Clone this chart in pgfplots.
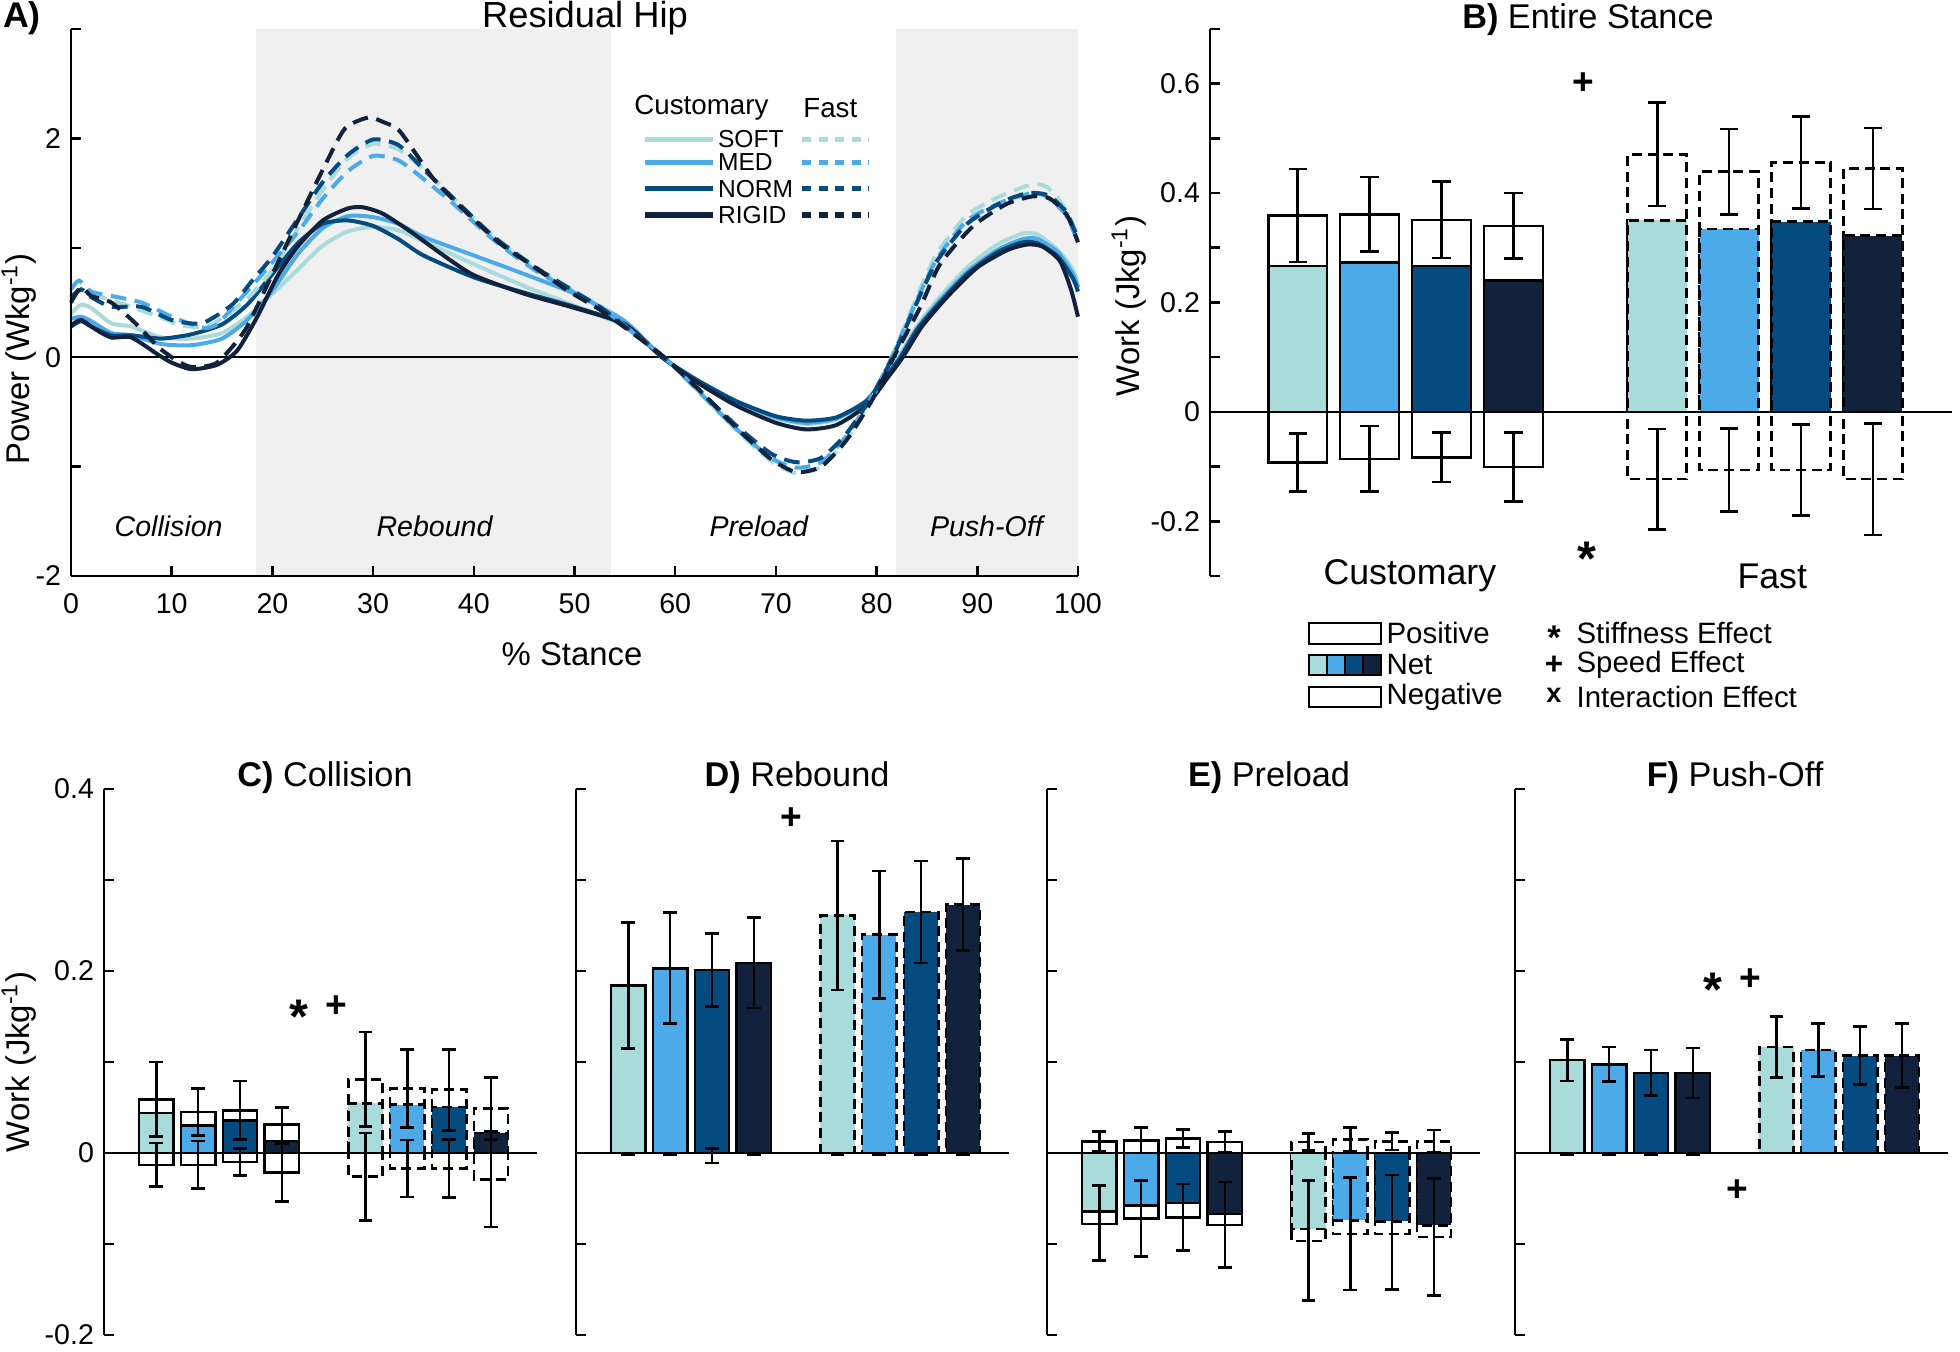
\documentclass[border=0pt]{standalone}
\usepackage{pgfplots}
\pgfplotsset{compat=1.18}
\usepackage{fontspec}
\setmainfont{Liberation Sans}
\definecolor{csoft}{RGB}{169,219,219}
\definecolor{cmed}{RGB}{77,170,233}
\definecolor{cnorm}{RGB}{5,75,127}
\definecolor{crigid}{RGB}{18,33,60}
\definecolor{cgray}{RGB}{240,240,240}
\newcommand{\fs}[1]{\fontsize{#1}{#1}\selectfont}
\tikzset{
  lgs/.style={line width=1.8pt},
  lgd/.style={line width=1.8pt, dash pattern=on 3.2pt off 2.6pt},
}
\pgfplotsset{
  base/.style={scale only axis, clip=false, axis on top,
    axis line style={line width=0.9pt, black},
    every tick/.style={line width=0.9pt, black},
    tick align=inside, major tick length=3.5pt, minor tick length=3.5pt,
    /pgf/number format/assume math mode=true,
    ticklabel style={font=\fs{10}}},
  bot/.style={base, anchor=south west, width=151.55pt, height=191.1pt,
    xmin=-0.25, xmax=10.1, ymin=-0.2, ymax=0.4,
    axis x line=none, axis y line*=left, xtick=\empty,
    ytick={-0.2,0,0.2,0.4}, minor ytick={-0.1,0.1,0.3}},
  bx/.style={ybar, bar width=0.82, bar shift=0, draw=black, line width=0.9pt},
  fst/.style={dash pattern=on 3.5pt off 2pt},
  eb/.style={draw=none, mark=none, forget plot,
    /pgfplots/error bars/y dir=both, /pgfplots/error bars/y explicit,
    /pgfplots/error bars/error mark=-,
    /pgfplots/error bars/error bar style={draw=black, line width=0.9pt, solid},
    /pgfplots/error bars/error mark options={rotate=90, draw=black, line width=0.9pt, solid, mark size=#1}},
  eb/.default=2.4pt,
  cl/.style={line width=1.4pt, smooth, tension=0.4},
  dl/.style={line width=1.4pt, smooth, tension=0.4, dash pattern=on 5.5pt off 3pt},
}
\begin{document}
\begin{tikzpicture}
\useasboundingbox (0,0) rectangle (686pt,473.2pt);

% ---------------- Panel A ----------------
\begin{axis}[base, at={(24.85pt,271.6pt)}, anchor=south west, width=352.45pt, height=191.45pt,
  xmin=0, xmax=100, ymin=-2, ymax=3, axis x line*=bottom, axis y line*=left,
  xtick={0,10,...,100}, ytick={-2,0,2}, minor ytick={-1,1,3},
  xticklabel style={yshift=-2.5pt}]
\fill[cgray] (axis cs:18.4,-2) rectangle (axis cs:53.6,3);
\fill[cgray] (axis cs:81.9,-2) rectangle (axis cs:100,3);
\addplot[black, line width=0.9pt] coordinates {(0,0) (100,0)};
% Customary (solid)
\addplot[cl, csoft] coordinates {(0,0.40)(1,0.48)(2,0.45)(4,0.31)(6,0.28)(9,0.18)(12,0.17)(15,0.22)(17.5,0.37)(20,0.58)(22.5,0.80)(25,1.02)(27.5,1.15)(30,1.19)(32.5,1.16)(35,1.06)(40,0.85)(45,0.65)(50,0.47)(55,0.28)(58.7,0)(62,-0.22)(66,-0.42)(70,-0.56)(73,-0.61)(76,-0.57)(79,-0.39)(81,-0.16)(82.2,0)(84,0.28)(86,0.52)(89,0.82)(92,1.03)(94.5,1.13)(96,1.12)(98,0.98)(99.5,0.80)(100,0.65)};
\addplot[cl, cmed] coordinates {(0,0.35)(1,0.37)(2,0.33)(4,0.22)(6,0.20)(9,0.12)(12,0.11)(15,0.17)(17.5,0.34)(20,0.61)(22.5,0.94)(25,1.18)(27.5,1.29)(30,1.28)(32.5,1.22)(35,1.10)(40,0.93)(45,0.76)(50,0.58)(55,0.33)(58.7,0)(62,-0.20)(66,-0.40)(70,-0.55)(73,-0.60)(76,-0.56)(79,-0.40)(81,-0.17)(82.3,0)(84,0.26)(86,0.49)(89,0.78)(92,0.98)(94.5,1.08)(96,1.08)(98,0.96)(99.5,0.76)(100,0.64)};
\addplot[cl, cnorm] coordinates {(0,0.28)(1,0.33)(2,0.28)(4,0.20)(6,0.20)(9,0.17)(12,0.21)(15,0.30)(17.5,0.48)(20,0.76)(22.5,1.04)(25,1.22)(27.5,1.25)(30,1.20)(32.5,1.08)(35,0.93)(40,0.73)(45,0.59)(50,0.46)(55,0.30)(58.7,0)(62,-0.20)(66,-0.40)(70,-0.54)(73,-0.58)(76,-0.55)(79,-0.40)(81,-0.17)(82.4,0)(84,0.25)(86,0.47)(89,0.76)(92,0.96)(94.5,1.05)(96,1.04)(98,0.92)(99.5,0.72)(100,0.60)};
\addplot[cl, crigid] coordinates {(0,0.29)(1,0.34)(2.5,0.25)(4,0.18)(6,0.18)(8.7,0.02)(10,-0.05)(12,-0.11)(14.5,-0.07)(16.5,0.06)(18.5,0.37)(20.5,0.74)(22.5,1.01)(25,1.25)(27.5,1.36)(29,1.37)(31,1.31)(34,1.13)(37,0.93)(40,0.75)(45,0.58)(50,0.45)(55,0.30)(58.7,0)(62,-0.22)(66,-0.44)(70,-0.60)(73,-0.66)(76,-0.62)(79,-0.44)(81,-0.20)(82.6,0)(84.5,0.28)(87,0.55)(90,0.82)(93,0.98)(95,1.03)(96.5,1.01)(98.2,0.88)(99.3,0.62)(100,0.37)};
% Fast (dashed)
\addplot[dl, csoft] coordinates {(0,0.55)(1,0.62)(2,0.58)(4,0.52)(6,0.46)(9,0.36)(11,0.29)(13.5,0.28)(16,0.42)(18,0.58)(20,0.80)(22.5,1.17)(25,1.53)(27.5,1.82)(30,1.95)(32.5,1.90)(35,1.72)(38,1.45)(42,1.10)(46,0.82)(50,0.60)(53,0.44)(56,0.21)(58.9,0)(62.5,-0.33)(66,-0.66)(69.5,-0.95)(72,-1.06)(74.5,-1.00)(77,-0.75)(79.5,-0.38)(81.5,0)(84,0.55)(86,0.95)(89,1.30)(92.5,1.48)(95.5,1.58)(97,1.55)(98.8,1.35)(100,1.10)};
\addplot[dl, cmed] coordinates {(0,0.62)(0.8,0.70)(2,0.60)(4,0.56)(7,0.50)(10,0.37)(13,0.27)(14.5,0.30)(16.5,0.50)(19,0.76)(22.5,1.14)(25,1.45)(27.5,1.70)(30,1.84)(32.5,1.80)(35,1.63)(38,1.40)(42,1.07)(46,0.80)(50,0.59)(53,0.43)(56,0.21)(58.9,0)(62.5,-0.33)(66,-0.65)(69.5,-0.92)(72,-1.01)(74.5,-0.96)(77,-0.72)(79.5,-0.36)(81.5,0)(84,0.52)(86,0.90)(89,1.25)(92.5,1.42)(95.5,1.50)(97,1.46)(98.8,1.30)(100,1.05)};
\addplot[dl, cnorm] coordinates {(0,0.55)(1,0.62)(2,0.55)(4,0.46)(7,0.46)(10,0.34)(13,0.31)(16,0.48)(18,0.70)(20,0.92)(22.5,1.26)(25,1.60)(27.5,1.85)(30,1.99)(32.5,1.94)(35,1.72)(38,1.45)(42,1.10)(46,0.83)(50,0.60)(53,0.43)(56,0.21)(58.9,0)(62.5,-0.31)(66,-0.62)(69.5,-0.88)(72,-0.96)(74.5,-0.92)(77,-0.70)(79.5,-0.36)(81.6,0)(84,0.50)(86,0.88)(89,1.22)(92.5,1.42)(95,1.50)(97,1.48)(98.8,1.33)(100,1.08)};
\addplot[dl, crigid] coordinates {(0,0.50)(1,0.64)(2,0.56)(4,0.50)(6.4,0.31)(8.7,0.09)(10.5,-0.03)(12,-0.09)(14.5,-0.05)(17.3,0.25)(19.9,0.74)(22.6,1.26)(25.2,1.75)(27.2,2.09)(29.5,2.19)(31,2.15)(32.7,2.06)(36,1.63)(39.3,1.32)(42.6,1.04)(45.9,0.83)(49.3,0.61)(52.6,0.43)(55.9,0.21)(58.9,0)(62.5,-0.31)(66,-0.64)(69.5,-0.93)(72,-1.05)(74.5,-1.00)(77,-0.76)(79.5,-0.40)(81.7,0)(84.3,0.45)(86.3,0.85)(89.6,1.20)(92.9,1.40)(95.5,1.47)(97.2,1.45)(98.9,1.30)(100,1.05)};
% legend
\node[font=\fs{9.7}] at (axis cs:62.6,2.28) {Customary};
\node[font=\fs{9.7}] at (axis cs:75.4,2.28) {Fast};
\draw[lgs, csoft] (axis cs:57,1.99) -- (axis cs:63.8,1.99);
\draw[lgd, csoft] (axis cs:72.6,1.99) -- (axis cs:79.2,1.99);
\node[anchor=west, font=\fs{8.6}, inner sep=0pt] at (axis cs:64.2,1.99) {SOFT};
\draw[lgs, cmed] (axis cs:57,1.78) -- (axis cs:63.8,1.78);
\draw[lgd, cmed] (axis cs:72.6,1.78) -- (axis cs:79.2,1.78);
\node[anchor=west, font=\fs{8.6}, inner sep=0pt] at (axis cs:64.2,1.78) {MED};
\draw[lgs, cnorm] (axis cs:57,1.54) -- (axis cs:63.8,1.54);
\draw[lgd, cnorm] (axis cs:72.6,1.54) -- (axis cs:79.2,1.54);
\node[anchor=west, font=\fs{8.6}, inner sep=0pt] at (axis cs:64.2,1.54) {NORM};
\draw[lgs, crigid] (axis cs:57,1.30) -- (axis cs:63.8,1.30);
\draw[lgd, crigid] (axis cs:72.6,1.30) -- (axis cs:79.2,1.30);
\node[anchor=west, font=\fs{8.6}, inner sep=0pt] at (axis cs:64.2,1.30) {RIGID};
% phases
\node[font=\fs{10}\itshape] at (axis cs:9.7,-1.55) {Collision};
\node[font=\fs{10}\itshape] at (axis cs:36.1,-1.55) {Rebound};
\node[font=\fs{10}\itshape] at (axis cs:68.3,-1.55) {Preload};
\node[font=\fs{10}\itshape] at (axis cs:90.9,-1.55) {Push-Off};
\end{axis}

% ---------------- Panel B ----------------
\begin{axis}[base, at={(423.5pt,271.6pt)}, anchor=south west, width=259.7pt, height=191.45pt,
  xmin=-0.22, xmax=10.1, ymin=-0.3, ymax=0.7, axis x line=none, axis y line*=left, xtick=\empty,
  ytick={-0.2,0,0.2,0.4,0.6}, minor ytick={-0.3,-0.1,0.1,0.3,0.5,0.7}]
\addplot[bx, fill=white] coordinates {(1,0.359)(2,0.361)(3,0.351)(4,0.340)};
\addplot[bx, fill=white] coordinates {(1,-0.093)(2,-0.086)(3,-0.083)(4,-0.101)};
\addplot[bx, fst, fill=white] coordinates {(6,0.471)(7,0.439)(8,0.456)(9,0.445)};
\addplot[bx, fst, fill=white] coordinates {(6,-0.123)(7,-0.106)(8,-0.106)(9,-0.123)};
\addplot[bx, fill=csoft] coordinates {(1,0.267)};
\addplot[bx, fill=cmed] coordinates {(2,0.273)};
\addplot[bx, fill=cnorm] coordinates {(3,0.267)};
\addplot[bx, fill=crigid] coordinates {(4,0.240)};
\addplot[bx, fst, fill=csoft] coordinates {(6,0.350)};
\addplot[bx, fst, fill=cmed] coordinates {(7,0.334)};
\addplot[bx, fst, fill=cnorm] coordinates {(8,0.348)};
\addplot[bx, fst, fill=crigid] coordinates {(9,0.322)};
\addplot[eb=3.2pt] coordinates {(1,0.359)+-(0,0.085) (2,0.361)+-(0,0.068) (3,0.351)+-(0,0.070) (4,0.340)+-(0,0.060)
  (6,0.471)+-(0,0.095) (7,0.439)+-(0,0.078) (8,0.456)+-(0,0.084) (9,0.445)+-(0,0.074)};
\addplot[eb=3.2pt] coordinates {(1,-0.093)+-(0,0.053) (2,-0.086)+-(0,0.060) (3,-0.083)+-(0,0.045) (4,-0.101)+-(0,0.063)
  (6,-0.123)+-(0,0.092) (7,-0.106)+-(0,0.076) (8,-0.106)+-(0,0.083) (9,-0.123)+-(0,0.102)};
\addplot[black, line width=0.9pt] coordinates {(-0.22,0) (10.1,0)};
\node[font=\bfseries\fs{13}] at (axis cs:4.97,0.6) {+};
\node[font=\bfseries\fs{17}, yshift=-3.5pt] at (axis cs:5.02,-0.25) {*};
\node[font=\fs{12.5}] at (axis cs:2.56,-0.3) {Customary};
\node[font=\fs{12.5}] at (axis cs:7.6,-0.3) {Fast};
\end{axis}

% ---------------- Panel C ----------------
\begin{axis}[bot, at={(36.4pt,5.95pt)}]
\addplot[bx, fill=white] coordinates {(1,0.059)(2,0.045)(3,0.047)(4,0.031)};
\addplot[bx, fill=white] coordinates {(1,-0.013)(2,-0.013)(3,-0.010)(4,-0.0215)};
\addplot[bx, fst, fill=white] coordinates {(6,0.081)(7,0.071)(8,0.0695)(9,0.049)};
\addplot[bx, fst, fill=white] coordinates {(6,-0.026)(7,-0.017)(8,-0.017)(9,-0.029)};
\addplot[bx, fill=csoft] coordinates {(1,0.044)};
\addplot[bx, fill=cmed] coordinates {(2,0.030)};
\addplot[bx, fill=cnorm] coordinates {(3,0.036)};
\addplot[bx, fill=crigid] coordinates {(4,0.013)};
\addplot[bx, fst, fill=csoft] coordinates {(6,0.0545)};
\addplot[bx, fst, fill=cmed] coordinates {(7,0.053)};
\addplot[bx, fst, fill=cnorm] coordinates {(8,0.0506)};
\addplot[bx, fst, fill=crigid] coordinates {(9,0.022)};
\addplot[eb] coordinates {(1,0.059)+-(0,0.041) (2,0.045)+-(0,0.026) (3,0.047)+-(0,0.032) (4,0.031)+-(0,0.019)
  (6,0.081)+-(0,0.052) (7,0.071)+-(0,0.043) (8,0.0695)+-(0,0.0445) (9,0.049)+-(0,0.034)};
\addplot[eb] coordinates {(1,-0.013)+-(0,0.024) (2,-0.013)+-(0,0.026) (3,-0.010)+-(0,0.0147) (4,-0.0215)+-(0,0.032)
  (6,-0.026)+-(0,0.048) (7,-0.017)+-(0,0.0315) (8,-0.017)+-(0,0.032) (9,-0.029)+-(0,0.0525)};
\addplot[black, line width=0.9pt] coordinates {(-0.25,0) (10.1,0)};
\node[font=\bfseries\fs{17}, yshift=-3.5pt] at (axis cs:4.4,0.161) {*};
\node[font=\bfseries\fs{13}] at (axis cs:5.3,0.161) {+};
\end{axis}

% ---------------- Panel D ----------------
\begin{axis}[bot, at={(201.6pt,5.95pt)}, yticklabels={}]
\addplot[bx, fill=csoft] coordinates {(1,0.184)};
\addplot[bx, fill=cmed] coordinates {(2,0.203)};
\addplot[bx, fill=cnorm] coordinates {(3,0.201)};
\addplot[bx, fill=crigid] coordinates {(4,0.209)};
\addplot[bx, fst, fill=csoft] coordinates {(6,0.261)};
\addplot[bx, fst, fill=cmed] coordinates {(7,0.240)};
\addplot[bx, fst, fill=cnorm] coordinates {(8,0.265)};
\addplot[bx, fst, fill=crigid] coordinates {(9,0.273)};
\addplot[eb] coordinates {(1,0.184)+-(0,0.069) (2,0.203)+-(0,0.061) (3,0.201)+-(0,0.040) (4,0.209)+-(0,0.0495)
  (6,0.261)+-(0,0.082) (7,0.240)+-(0,0.070) (8,0.265)+-(0,0.056) (9,0.273)+-(0,0.0505)};
\addplot[eb] coordinates {(1,-0.001)+-(0,0.001) (2,-0.001)+-(0,0.001) (3,-0.003)+-(0,0.008) (4,-0.001)+-(0,0.001)
  (6,-0.001)+-(0,0.001) (7,-0.001)+-(0,0.001) (8,-0.001)+-(0,0.001) (9,-0.001)+-(0,0.001)};
\addplot[black, line width=0.9pt] coordinates {(-0.25,0) (10.1,0)};
\node[font=\bfseries\fs{13}] at (axis cs:4.9,0.368) {+};
\end{axis}

% ---------------- Panel E ----------------
\begin{axis}[bot, at={(366.45pt,5.95pt)}, yticklabels={}]
\addplot[bx, fill=white] coordinates {(1,0.0129)(2,0.014)(3,0.016)(4,0.012)};
\addplot[bx, fill=white] coordinates {(1,-0.078)(2,-0.0717)(3,-0.0708)(4,-0.079)};
\addplot[bx, fst, fill=white] coordinates {(6,0.012)(7,0.015)(8,0.0129)(9,0.0129)};
\addplot[bx, fst, fill=white] coordinates {(6,-0.0966)(7,-0.0888)(8,-0.0888)(9,-0.0923)};
\addplot[bx, fill=csoft] coordinates {(1,-0.064)};
\addplot[bx, fill=cmed] coordinates {(2,-0.058)};
\addplot[bx, fill=cnorm] coordinates {(3,-0.055)};
\addplot[bx, fill=crigid] coordinates {(4,-0.067)};
\addplot[bx, fst, fill=csoft] coordinates {(6,-0.0837)};
\addplot[bx, fst, fill=cmed] coordinates {(7,-0.074)};
\addplot[bx, fst, fill=cnorm] coordinates {(8,-0.075)};
\addplot[bx, fst, fill=crigid] coordinates {(9,-0.0794)};
\addplot[eb] coordinates {(1,0.0129)+-(0,0.0107) (2,0.014)+-(0,0.014) (3,0.016)+-(0,0.010) (4,0.012)+-(0,0.0116)
  (6,0.012)+-(0,0.0095) (7,0.015)+-(0,0.013) (8,0.0129)+-(0,0.0094) (9,0.0129)+-(0,0.0124)};
\addplot[eb] coordinates {(1,-0.077)+-(0,0.041) (2,-0.072)+-(0,0.042) (3,-0.0707)+-(0,0.0365) (4,-0.079)+-(0,0.047)
  (6,-0.096)+-(0,0.066) (7,-0.0887)+-(0,0.0617) (8,-0.087)+-(0,0.063) (9,-0.0923)+-(0,0.0645)};
\addplot[black, line width=0.9pt] coordinates {(-0.25,0) (10.1,0)};
\end{axis}

% ---------------- Panel F ----------------
\begin{axis}[bot, at={(530.25pt,5.95pt)}, yticklabels={}]
\addplot[bx, fill=csoft] coordinates {(1,0.102)};
\addplot[bx, fill=cmed] coordinates {(2,0.0974)};
\addplot[bx, fill=cnorm] coordinates {(3,0.088)};
\addplot[bx, fill=crigid] coordinates {(4,0.088)};
\addplot[bx, fst, fill=csoft] coordinates {(6,0.1167)};
\addplot[bx, fst, fill=cmed] coordinates {(7,0.113)};
\addplot[bx, fst, fill=cnorm] coordinates {(8,0.107)};
\addplot[bx, fst, fill=crigid] coordinates {(9,0.107)};
\addplot[eb] coordinates {(1,0.102)+-(0,0.023) (2,0.0974)+-(0,0.019) (3,0.088)+-(0,0.025) (4,0.088)+-(0,0.0275)
  (6,0.1167)+-(0,0.0335) (7,0.113)+-(0,0.029) (8,0.107)+-(0,0.032) (9,0.107)+-(0,0.035)};
\addplot[eb] coordinates {(1,-0.001)+-(0,0.001) (2,-0.001)+-(0,0.001) (3,-0.001)+-(0,0.001) (4,-0.001)+-(0,0.001)};
\addplot[black, line width=0.9pt] coordinates {(-0.25,0) (10.1,0)};
\node[font=\bfseries\fs{17}, yshift=-3.5pt] at (axis cs:4.47,0.19) {*};
\node[font=\bfseries\fs{13}] at (axis cs:5.37,0.19) {+};
\node[font=\bfseries\fs{13}] at (axis cs:5.07,-0.041) {+};
\end{axis}

% ---------------- Text in pixel coordinates ----------------
\begin{scope}[shift={(0,473.2pt)}, x=0.35pt, y=-0.35pt]
\node[font=\bfseries\fs{12.5}] at (22,18) {A)};
\node[font=\fs{12.7}] at (585,18) {Residual Hip};
\node[font=\fs{11.5}] at (572,654) {\% Stance};
\node[font=\fs{11.5}, rotate=90] at (19,359) {Power (Wkg\textsuperscript{-1})};
\node[font=\fs{12}] at (1588,20) {\textbf{B)} Entire Stance};
\node[font=\fs{11.5}, rotate=90] at (1129,306) {Work (Jkg\textsuperscript{-1})};
\node[font=\fs{11.5}, rotate=90] at (19,1062) {Work (Jkg\textsuperscript{-1})};
\node[font=\fs{12}] at (325,778) {\textbf{C)} Collision};
\node[font=\fs{12}] at (797,778) {\textbf{D)} Rebound};
\node[font=\fs{12}] at (1269,778) {\textbf{E)} Preload};
\node[font=\fs{12}] at (1735,778) {\textbf{F)} Push-Off};
% B legend
\draw[line width=0.9pt, fill=white] (1309,623) rectangle (1381,644);
\fill[csoft] (1309,655) rectangle (1327,675);
\fill[cmed] (1327,655) rectangle (1345,675);
\fill[cnorm] (1345,655) rectangle (1363,675);
\fill[crigid] (1363,655) rectangle (1381,675);
\draw[line width=0.9pt] (1309,655) rectangle (1381,675);
\draw[line width=0.9pt] (1327,655) -- (1327,675) (1345,655) -- (1345,675) (1363,655) -- (1363,675);
\draw[line width=0.9pt, fill=white] (1309,687) rectangle (1381,707);
\node[anchor=west, font=\fs{10.3}, inner sep=0pt] at (1386,633) {Positive};
\node[anchor=west, font=\fs{10.3}, inner sep=0pt] at (1386,665) {Net};
\node[anchor=west, font=\fs{10.3}, inner sep=0pt] at (1386,697) {Negative};
\node[font=\bfseries\fs{12}, inner sep=0pt] at (1554,638) {*};
\node[font=\bfseries\fs{11}, inner sep=0pt] at (1554,665) {+};
\node[font=\bfseries\fs{9.5}, inner sep=0pt] at (1554,695) {x};
\node[anchor=west, font=\fs{10.3}, inner sep=0pt] at (1576,633) {Stiffness Effect};
\node[anchor=west, font=\fs{10.3}, inner sep=0pt] at (1576,665) {Speed Effect};
\node[anchor=west, font=\fs{10.3}, inner sep=0pt] at (1576,697) {Interaction Effect};
\end{scope}
\end{tikzpicture}
\end{document}
